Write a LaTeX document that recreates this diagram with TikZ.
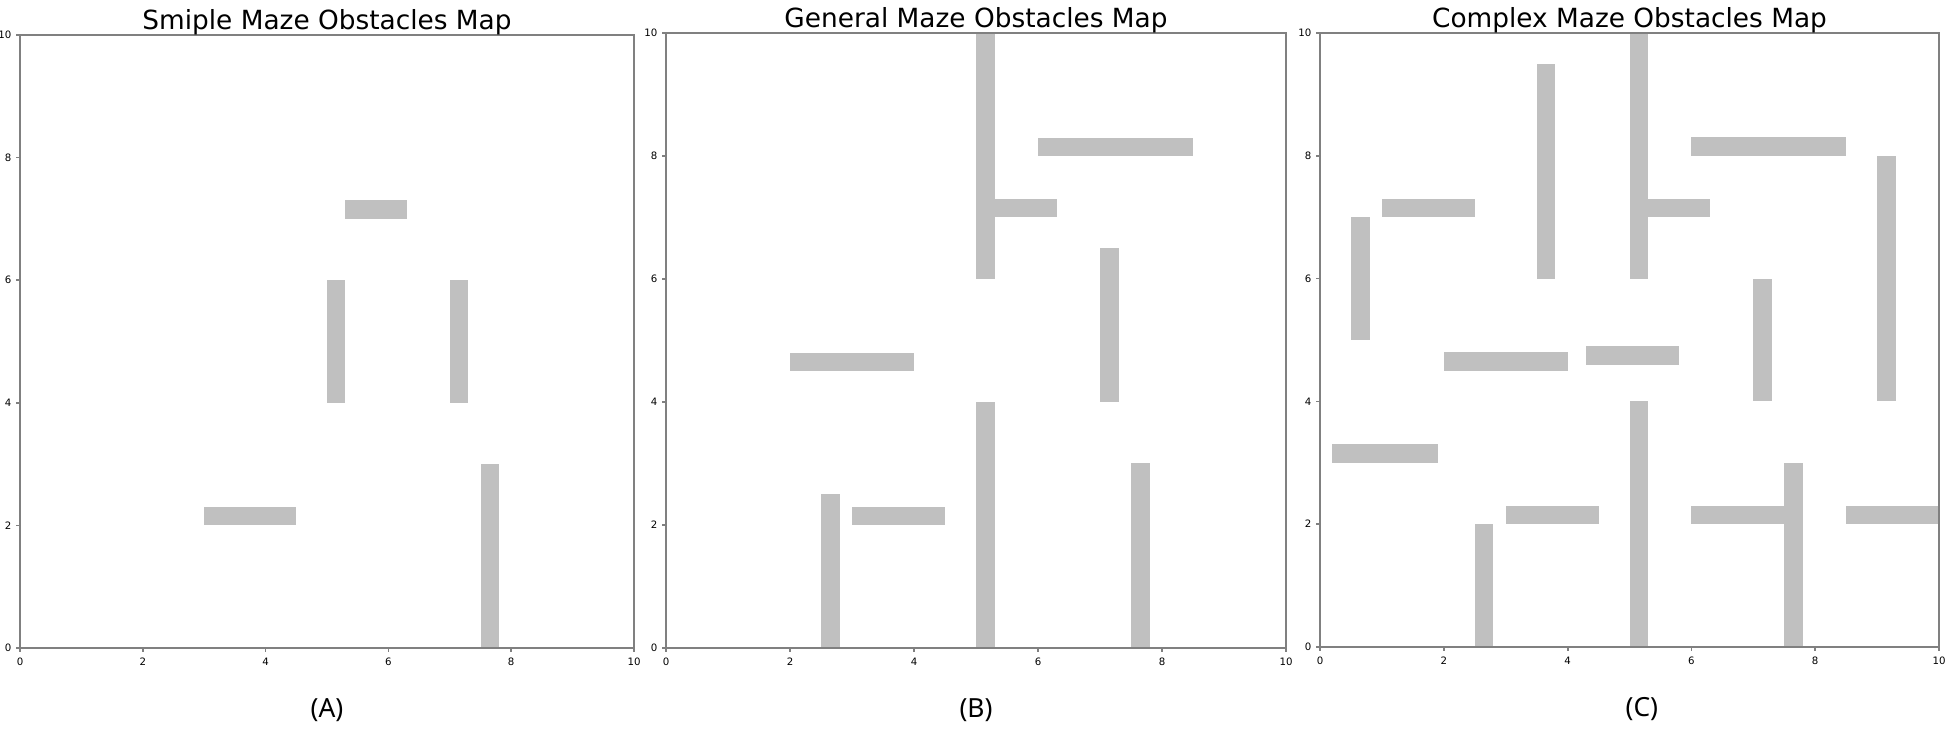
\documentclass[tikz,border=0pt]{standalone}
\usepackage{fontspec}
\setmainfont{DejaVu Sans}
\newfontfamily\capfont{Noto Sans}
\definecolor{obstgray}{RGB}{192,192,192}
\definecolor{axisgray}{RGB}{128,128,128}
\tikzset{
  obst/.style={fill=obstgray, draw=none},
  axbox/.style={draw=axisgray, line width=0.6pt},
  tickmark/.style={draw=axisgray, line width=0.5pt},
  ticklbl/.style={font=\fontsize{2.9}{3.4}\selectfont, inner sep=0pt},
  maptitle/.style={font=\fontsize{7.5}{9}\selectfont, anchor=base, inner sep=0pt},
  subcap/.style={font=\capfont\fontsize{7.5}{9}\selectfont, anchor=base, inner sep=0pt}
}
% frame, ticks and tick labels of one map (0..10 both ways)
\newcommand{\mazeframe}[1]{%
  \draw[axbox] (0,0) rectangle (10,10);
  \foreach \tk in {0,2,...,10}{
    \draw[tickmark] (\tk,0) -- ++(0,-0.04cm);
    \draw[tickmark] (0,\tk) -- ++(-0.04cm,0);
    \node[ticklbl, anchor=north] (x#1\tk) at ([yshift=-0.09cm]\tk,0) {\tk};
    \node[ticklbl, anchor=east] (y#1\tk) at ([xshift=-0.08cm]0,\tk) {\tk};
  }
}

\begin{document}
\begin{tikzpicture}
\useasboundingbox (0,0) rectangle (19.49,7.31);

% (A) simple maze
\begin{scope}[shift={(0.20cm,0.83cm)}, x=0.614cm, y=0.613cm]
  \foreach \ox/\oy/\ow/\oh in {5.3/7.0/1.0/0.3, 5.0/4.0/0.3/2.0, 7.0/4.0/0.3/2.0,
      3.0/2.0/1.5/0.3, 7.5/0/0.3/3.0}
    \fill[obst] (\ox,\oy) rectangle ++(\ow,\oh);
  \mazeframe{A}
  \node[maptitle] (titleA) at ([yshift=0.05cm]5,10) {Smiple Maze Obstacles Map};
  \node[subcap] (capA) at ([yshift=-0.70cm]5,0) {(A)};
\end{scope}

% (B) general maze
\begin{scope}[shift={(6.66cm,0.83cm)}, x=0.620cm, y=0.615cm]
  \foreach \ox/\oy/\ow/\oh in {5.0/6.0/0.3/4.0, 6.0/8.0/2.5/0.3, 5.3/7.0/1.0/0.3,
      7.0/4.0/0.3/2.5, 2.0/4.5/2.0/0.3, 5.0/0/0.3/4.0, 2.5/0/0.3/2.5,
      3.0/2.0/1.5/0.3, 7.5/0/0.3/3.0}
    \fill[obst] (\ox,\oy) rectangle ++(\ow,\oh);
  \mazeframe{B}
  \node[maptitle] (titleB) at ([yshift=0.05cm]5,10) {General Maze Obstacles Map};
  \node[subcap] (capB) at ([yshift=-0.70cm]5,0) {(B)};
\end{scope}

% (C) complex maze
\begin{scope}[shift={(13.20cm,0.84cm)}, x=0.619cm, y=0.614cm]
  \foreach \ox/\oy/\ow/\oh in {0.5/5.0/0.3/2.0, 1.0/7.0/1.5/0.3, 3.5/6.0/0.3/3.5,
      5.0/6.0/0.3/4.0, 5.3/7.0/1.0/0.3, 6.0/8.0/2.5/0.3, 9.0/4.0/0.3/4.0,
      7.0/4.0/0.3/2.0, 2.0/4.5/2.0/0.3, 4.3/4.6/1.5/0.3, 0.2/3.0/1.7/0.3,
      5.0/0/0.3/4.0, 2.5/0/0.3/2.0, 3.0/2.0/1.5/0.3, 6.0/2.0/1.5/0.3,
      7.5/0/0.3/3.0, 8.5/2.0/1.5/0.3}
    \fill[obst] (\ox,\oy) rectangle ++(\ow,\oh);
  \mazeframe{C}
  \node[maptitle] (titleC) at ([yshift=0.05cm]5,10) {Complex Maze Obstacles Map};
  \node[subcap] (capC) at ([yshift=-0.70cm]5.2,0) {(C)};
\end{scope}
\end{tikzpicture}
\end{document}
